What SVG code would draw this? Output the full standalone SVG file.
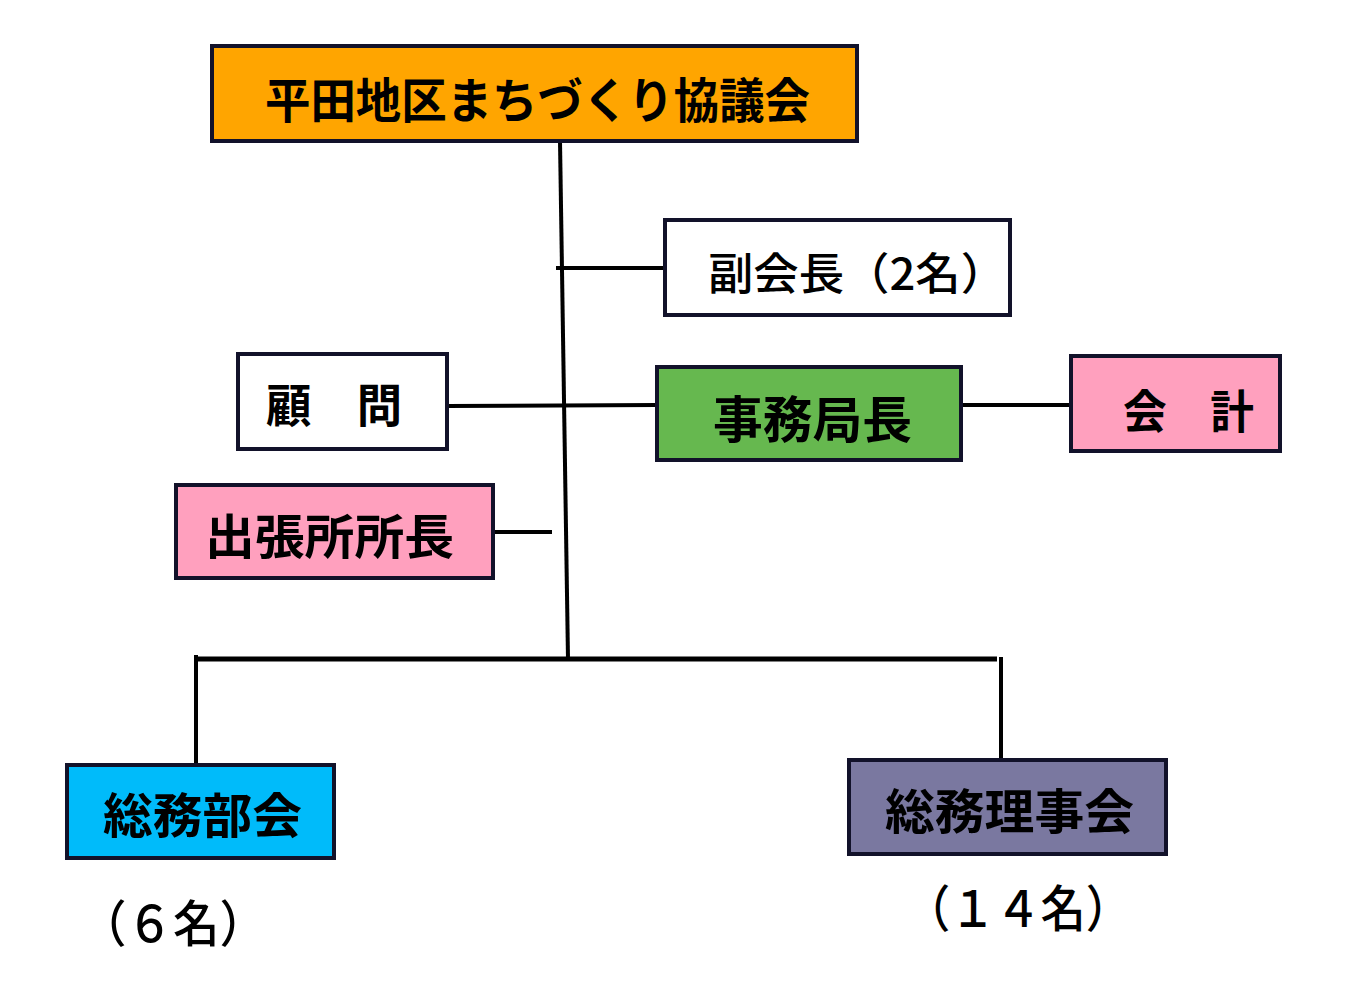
<svg xmlns="http://www.w3.org/2000/svg" width="1353" height="1001" viewBox="0 0 1353 1001">
<style>
.box{stroke:#12122a;stroke-width:4}
.ln{stroke:#000;stroke-width:4;fill:none}
.t{font-family:"Noto Sans CJK JP","Noto Sans CJK SC",sans-serif;font-weight:700;fill:#000;dominant-baseline:central}
.r{font-weight:500}
</style>
<rect width="1353" height="1001" fill="#fff"/>
<g id="connectors">
<path class="ln" d="M560 141 L568 659"/>
<path class="ln" d="M556 268 L665 268"/>
<path class="ln" d="M447 406 L657 405"/>
<path class="ln" d="M961 405 L1071 405"/>
<path class="ln" d="M493 532 L552 532"/>
<path class="ln" style="stroke-width:5" d="M195 659 L997 659"/>
<path class="ln" d="M196 655 L196 765"/>
<path class="ln" d="M1001 657 L1001 760"/>
</g>
<g id="council">
<rect class="box" x="212" y="46" width="645" height="95" fill="#FFA500"/>
<text class="t" x="265" y="97" font-size="48" textLength="545" lengthAdjust="spacingAndGlyphs">平田地区まちづくり協議会</text>
</g>
<g id="vice">
<rect class="box" x="665" y="220" width="345" height="95" fill="#fff"/>
<text class="t r" x="708" y="271" font-size="44" textLength="298" lengthAdjust="spacingAndGlyphs">副会長（2名）</text>
</g>
<g id="advisor">
<rect class="box" x="238" y="354" width="209" height="95" fill="#fff"/>
<text class="t" x="266" y="402" font-size="46" textLength="136" lengthAdjust="spacingAndGlyphs">顧　問</text>
</g>
<g id="secretary">
<rect class="box" x="657" y="367" width="304" height="93" fill="#66B84F"/>
<text class="t" x="713" y="416" font-size="50" textLength="199" lengthAdjust="spacingAndGlyphs">事務局長</text>
</g>
<g id="accounting">
<rect class="box" x="1071" y="356" width="209" height="95" fill="#FFA0BE"/>
<text class="t" x="1123" y="408" font-size="46" textLength="131" lengthAdjust="spacingAndGlyphs">会　計</text>
</g>
<g id="branch">
<rect class="box" x="176" y="485" width="317" height="93" fill="#FFA0BE"/>
<text class="t" x="205" y="533" font-size="48" textLength="249" lengthAdjust="spacingAndGlyphs">出張所所長</text>
</g>
<g id="general-dept">
<rect class="box" x="67" y="765" width="267" height="93" fill="#00BBFA"/>
<text class="t" x="103" y="812" font-size="48" textLength="199" lengthAdjust="spacingAndGlyphs">総務部会</text>
<text class="t r" x="80" y="920" font-size="50" textLength="186" lengthAdjust="spacingAndGlyphs">（６名）</text>
</g>
<g id="general-board">
<rect class="box" x="849" y="760" width="317" height="94" fill="#7A78A0"/>
<text class="t" x="885" y="808" font-size="48" textLength="249" lengthAdjust="spacingAndGlyphs">総務理事会</text>
<text class="t r" x="905" y="905" font-size="50" textLength="226" lengthAdjust="spacingAndGlyphs">（１４名）</text>
</g>
</svg>
